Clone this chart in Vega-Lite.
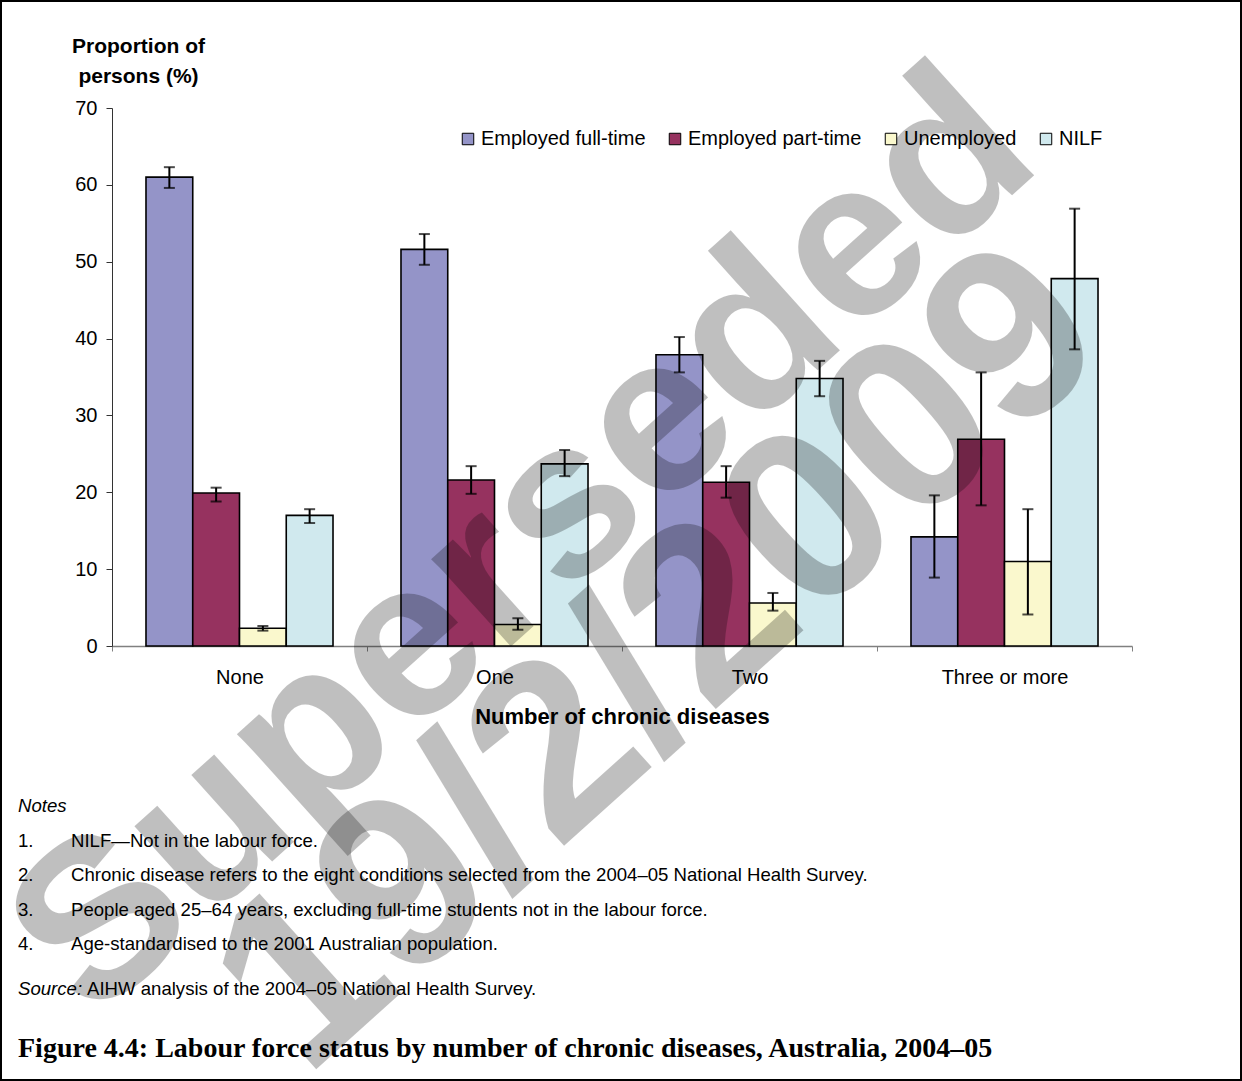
{
  "$schema": "https://vega.github.io/schema/vega-lite/v6.json",
  "width": 1240,
  "height": 1079,
  "autosize": "none",
  "padding": {"left": 1, "top": 1, "right": 1, "bottom": 1},
  "background": "white",
  "config": {
    "view": {"stroke": "black", "strokeWidth": 2},
    "font": "Liberation Sans",
    "axis": {"labelColor": "black", "titleColor": "black", "grid": false}
  },
  "layer": [
    {
      "data": {
        "values": [
          {"cat": "None", "series": "Employed full-time", "v": 61.0, "lo": 59.6, "hi": 62.3},
          {"cat": "None", "series": "Employed part-time", "v": 19.9, "lo": 18.8, "hi": 20.6},
          {"cat": "None", "series": "Unemployed", "v": 2.3, "lo": 2.0, "hi": 2.6},
          {"cat": "None", "series": "NILF", "v": 17.0, "lo": 16.0, "hi": 17.8},
          {"cat": "One", "series": "Employed full-time", "v": 51.6, "lo": 49.6, "hi": 53.6},
          {"cat": "One", "series": "Employed part-time", "v": 21.6, "lo": 19.8, "hi": 23.4},
          {"cat": "One", "series": "Unemployed", "v": 2.8, "lo": 2.1, "hi": 3.6},
          {"cat": "One", "series": "NILF", "v": 23.7, "lo": 22.1, "hi": 25.5},
          {"cat": "Two", "series": "Employed full-time", "v": 37.9, "lo": 35.6, "hi": 40.2},
          {"cat": "Two", "series": "Employed part-time", "v": 21.3, "lo": 19.3, "hi": 23.4},
          {"cat": "Two", "series": "Unemployed", "v": 5.6, "lo": 4.6, "hi": 6.9},
          {"cat": "Two", "series": "NILF", "v": 34.8, "lo": 32.5, "hi": 37.1},
          {"cat": "Three or more", "series": "Employed full-time", "v": 14.2, "lo": 8.9, "hi": 19.6},
          {"cat": "Three or more", "series": "Employed part-time", "v": 26.9, "lo": 18.3, "hi": 35.6},
          {"cat": "Three or more", "series": "Unemployed", "v": 11.0, "lo": 4.1, "hi": 17.8},
          {"cat": "Three or more", "series": "NILF", "v": 47.8, "lo": 38.6, "hi": 56.9}
        ]
      },
      "encoding": {
        "x": {
          "field": "cat", "type": "nominal",
          "sort": ["None", "One", "Two", "Three or more"],
          "scale": {"range": [111, 1131], "paddingInner": 0, "paddingOuter": 0},
          "axis": {
            "orient": "bottom", "offset": -434,
            "title": "Number of chronic diseases",
            "titleFontSize": 22, "titleFontWeight": "bold", "titlePadding": 19,
            "labelFontSize": 20, "labelAngle": 0, "labelPadding": 16,
            "tickBand": "extent", "tickSize": 5, "tickColor": "#808080",
            "domainColor": "#808080", "domainWidth": 1.5
          }
        },
        "xOffset": {
          "field": "series", "type": "nominal",
          "scale": {"domain": ["Employed full-time", "Employed part-time", "Unemployed", "NILF"], "paddingInner": 0, "paddingOuter": 0.727}
        },
        "y": {
          "field": "v", "type": "quantitative",
          "scale": {"domain": [0, 70], "range": [645, 107], "nice": false, "zero": true},
          "axis": {
            "orient": "left", "offset": -111,
            "values": [0, 10, 20, 30, 40, 50, 60, 70],
            "labelFontSize": 20, "labelPadding": 9, "tickSize": 6,
            "tickColor": "#333333", "domainColor": "#333333",
            "title": ["Proportion of", "persons (%)"],
            "titleAngle": 0, "titleAlign": "center", "titleBaseline": "alphabetic",
            "titleX": 26, "titleY": 51, "titleFontSize": 21, "titleFontWeight": "bold",
            "titleLineHeight": 30
          }
        }
      },
      "layer": [
        {
          "mark": {"type": "bar", "stroke": "black", "strokeWidth": 1.6},
          "encoding": {
            "color": {
              "field": "series", "type": "nominal",
              "scale": {
                "domain": ["Employed full-time", "Employed part-time", "Unemployed", "NILF"],
                "range": ["#9494C8", "#96325F", "#FAF8CD", "#D0E9EE"]
              },
              "legend": {
                "orient": "none", "legendX": 457, "legendY": 128,
                "direction": "horizontal", "title": null,
                "symbolType": "square", "symbolSize": 132,
                "symbolStrokeColor": "black", "symbolStrokeWidth": 1,
                "symbolOpacity": 1, "labelLimit": 400,
                "labelFontSize": 20, "labelColor": "black", "labelOffset": 3,
                "columnPadding": 19, "padding": 0
              }
            }
          }
        },
        {
          "mark": {"type": "rule", "color": "black", "strokeWidth": 2},
          "encoding": {"y": {"field": "lo", "type": "quantitative"}, "y2": {"field": "hi"}}
        },
        {
          "mark": {"type": "tick", "color": "black", "thickness": 2, "size": 11, "orient": "horizontal"},
          "encoding": {"y": {"field": "hi", "type": "quantitative"}}
        },
        {
          "mark": {"type": "tick", "color": "black", "thickness": 2, "size": 11, "orient": "horizontal"},
          "encoding": {"y": {"field": "lo", "type": "quantitative"}}
        }
      ]
    },
    {
      "data": {
        "values": [
          {"row": 0, "kind": "head", "num": "", "text": "Notes"},
          {"row": 1, "kind": "item", "num": "1.", "text": "NILF—Not in the labour force."},
          {"row": 2, "kind": "item", "num": "2.", "text": "Chronic disease refers to the eight conditions selected from the 2004–05 National Health Survey."},
          {"row": 3, "kind": "item", "num": "3.", "text": "People aged 25–64 years, excluding full-time students not in the labour force."},
          {"row": 4, "kind": "item", "num": "4.", "text": "Age-standardised to the 2001 Australian population."},
          {"row": 5, "kind": "source", "num": "Source:", "text": "AIHW analysis of the 2004–05 National Health Survey."},
          {"row": 6, "kind": "caption", "num": "", "text": "Figure 4.4: Labour force status by number of chronic diseases, Australia, 2004–05"},
          {"row": 2, "kind": "wm1", "num": "", "text": "Superseded"},
          {"row": 4, "kind": "wm2", "num": "", "text": "19/2/2009"}
        ]
      },
      "encoding": {
        "y": {"field": "row", "type": "quantitative", "scale": {"domain": [0, 4], "range": [805, 943], "nice": false, "zero": false}, "axis": null}
      },
      "layer": [
        {
          "transform": [{"filter": "datum.kind == 'head'"}],
          "mark": {"type": "text", "align": "left", "baseline": "middle", "fontSize": 18.6, "fontStyle": "italic", "color": "black"},
          "encoding": {
            "x": {"datum": "num", "type": "nominal", "scale": {"type": "point", "domain": ["num", "text"], "range": [17, 70], "padding": 0}, "axis": null},
            "text": {"field": "text"}
          }
        },
        {
          "transform": [{"filter": "datum.kind == 'item'"}],
          "mark": {"type": "text", "align": "left", "baseline": "middle", "fontSize": 18.6, "color": "black"},
          "encoding": {
            "x": {"datum": "num", "type": "nominal", "scale": {"type": "point", "domain": ["num", "text"], "range": [17, 70], "padding": 0}, "axis": null},
            "text": {"field": "num"}
          }
        },
        {
          "transform": [{"filter": "datum.kind == 'item'"}],
          "mark": {"type": "text", "align": "left", "baseline": "middle", "fontSize": 18.6, "color": "black"},
          "encoding": {
            "x": {"datum": "text", "type": "nominal", "scale": {"type": "point", "domain": ["num", "text"], "range": [17, 70], "padding": 0}, "axis": null},
            "text": {"field": "text"}
          }
        },
        {
          "transform": [{"filter": "datum.kind == 'source'"}],
          "mark": {"type": "text", "align": "left", "baseline": "middle", "fontSize": 18.6, "fontStyle": "italic", "color": "black", "dy": 10},
          "encoding": {
            "x": {"datum": "num", "type": "nominal", "scale": {"type": "point", "domain": ["num", "text"], "range": [17, 70], "padding": 0}, "axis": null},
            "text": {"field": "num"}
          }
        },
        {
          "transform": [{"filter": "datum.kind == 'source'"}],
          "mark": {"type": "text", "align": "left", "baseline": "middle", "fontSize": 18.6, "color": "black", "dy": 10, "dx": 16},
          "encoding": {
            "x": {"datum": "text", "type": "nominal", "scale": {"type": "point", "domain": ["num", "text"], "range": [17, 70], "padding": 0}, "axis": null},
            "text": {"field": "text"}
          }
        },
        {
          "transform": [{"filter": "datum.kind == 'caption'"}],
          "mark": {"type": "text", "align": "left", "baseline": "middle", "fontSize": 28, "font": "Liberation Serif", "fontWeight": "bold", "color": "black", "dy": 36},
          "encoding": {
            "x": {"datum": "num", "type": "nominal", "scale": {"type": "point", "domain": ["num", "text"], "range": [17, 70], "padding": 0}, "axis": null},
            "text": {"field": "text"}
          }
        },
        {
          "transform": [{"filter": "datum.kind == 'wm1'"}],
          "mark": {"type": "text", "align": "center", "baseline": "middle", "font": "Liberation Sans", "fontWeight": "bold", "fontSize": 224, "angle": -42, "color": "black", "opacity": 0.247, "dx": 597, "dy": 93},
          "encoding": {
            "x": {"datum": "num", "type": "nominal", "scale": {"type": "point", "domain": ["num", "text"], "range": [17, 70], "padding": 0}, "axis": null},
            "text": {"field": "text"}
          }
        },
        {
          "transform": [{"filter": "datum.kind == 'wm2'"}],
          "mark": {"type": "text", "align": "center", "baseline": "middle", "font": "Liberation Sans", "fontWeight": "bold", "fontSize": 245, "angle": -42, "color": "black", "opacity": 0.247, "dx": 628, "dy": 183},
          "encoding": {
            "x": {"datum": "text", "type": "nominal", "scale": {"type": "point", "domain": ["num", "text"], "range": [17, 70], "padding": 0}, "axis": null},
            "text": {"field": "text"}
          }
        }
      ]
    }
  ],
  "resolve": {"scale": {"x": "independent", "y": "independent"}}
}
